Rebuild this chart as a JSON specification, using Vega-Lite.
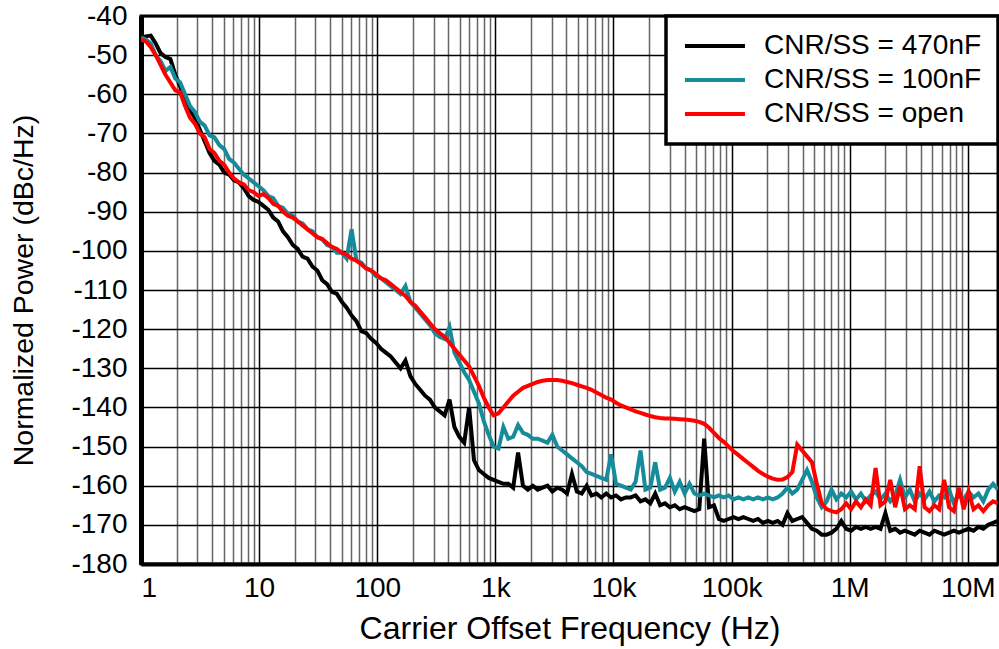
{
  "$schema": "https://vega.github.io/schema/vega-lite/v6.json",
  "autosize": {"type": "none"},
  "width": 857,
  "height": 548,
  "padding": {"left": 141, "top": 16, "right": 1, "bottom": 85},
  "background": "white",
  "config": {
    "font": "Liberation Sans",
    "view": {"stroke": "black", "strokeWidth": 3},
    "axis": {
      "labelFont": "Liberation Sans",
      "labelFontSize": 28,
      "labelColor": "black",
      "titleFont": "Liberation Sans",
      "titleFontSize": 28,
      "titleFontWeight": "normal",
      "titleColor": "black",
      "ticks": false,
      "gridColor": "black",
      "gridWidth": 1.5,
      "gridOpacity": 1,
      "domainColor": "black"
    },
    "legend": {
      "orient": "top-right",
      "offset": 0,
      "fillColor": "white",
      "strokeColor": "black",
      "strokeWidth": 3.5,
      "padding": 16,
      "symbolType": "M-0.92,0H4.08",
      "symbolSize": 576,
      "symbolStrokeWidth": 4,
      "labelFont": "Liberation Sans",
      "labelFontSize": 28,
      "labelColor": "black",
      "labelOffset": 54,
      "labelLimit": 500,
      "rowPadding": 6
    }
  },
  "data": {
    "values": [
      {"f": 1, "a": -45.5, "b": -45.5, "c": -46},
      {"f": 1.1, "a": -45.2, "b": -46, "c": -46.5},
      {"f": 1.21, "a": -45, "b": -47, "c": -48},
      {"f": 1.331, "a": -47, "b": -50, "c": -50},
      {"f": 1.465, "a": -49.5, "b": -51.5, "c": -52.5},
      {"f": 1.612, "a": -50.5, "b": -54, "c": -55},
      {"f": 1.773, "a": -51, "b": -53, "c": -57},
      {"f": 1.951, "a": -55, "b": -56, "c": -59},
      {"f": 2.146, "a": -58, "b": -57, "c": -59.5},
      {"f": 2.361, "a": -62, "b": -60, "c": -63},
      {"f": 2.598, "a": -64, "b": -63, "c": -66},
      {"f": 2.858, "a": -66, "b": -64.5, "c": -67.5},
      {"f": 3.144, "a": -69, "b": -67, "c": -70},
      {"f": 3.459, "a": -72, "b": -68, "c": -71},
      {"f": 3.806, "a": -75, "b": -70.5, "c": -74},
      {"f": 4.187, "a": -77, "b": -71, "c": -75},
      {"f": 4.606, "a": -78, "b": -73, "c": -77},
      {"f": 5.068, "a": -80, "b": -74, "c": -78},
      {"f": 5.575, "a": -80.5, "b": -76.5, "c": -80},
      {"f": 6.134, "a": -82, "b": -77.5, "c": -81.5},
      {"f": 6.748, "a": -82.5, "b": -79, "c": -82.5},
      {"f": 7.424, "a": -84, "b": -80.5, "c": -83},
      {"f": 8.168, "a": -86, "b": -81.5, "c": -84.5},
      {"f": 8.986, "a": -87, "b": -82.5, "c": -85},
      {"f": 9.886, "a": -87.5, "b": -83.5, "c": -86},
      {"f": 10.876, "a": -88.5, "b": -84.5, "c": -85.5},
      {"f": 11.965, "a": -89.5, "b": -86, "c": -86.5},
      {"f": 13.164, "a": -91.5, "b": -86.5, "c": -88},
      {"f": 14.483, "a": -92.5, "b": -88.5, "c": -88.5},
      {"f": 15.933, "a": -95, "b": -89, "c": -90},
      {"f": 17.529, "a": -96.5, "b": -90.5, "c": -91},
      {"f": 19.286, "a": -98.5, "b": -91, "c": -91.5},
      {"f": 21.218, "a": -99.5, "b": -92.5, "c": -92.5},
      {"f": 23.343, "a": -101.5, "b": -93, "c": -93.5},
      {"f": 25.681, "a": -102, "b": -94.5, "c": -94.5},
      {"f": 28.252, "a": -104, "b": -95, "c": -95.5},
      {"f": 31.083, "a": -105, "b": -96.5, "c": -96.5},
      {"f": 34.196, "a": -107.5, "b": -97, "c": -97},
      {"f": 37.622, "a": -108.5, "b": -98.5, "c": -98},
      {"f": 41.391, "a": -110.5, "b": -99, "c": -99},
      {"f": 45.536, "a": -111, "b": -100.5, "c": -99.5},
      {"f": 50.098, "a": -113, "b": -100.5, "c": -100.5},
      {"f": 55.117, "a": -114.5, "b": -102, "c": -101},
      {"f": 60.638, "a": -116.5, "b": -94.5, "c": -102},
      {"f": 66.712, "a": -118, "b": -102.5, "c": -102.5},
      {"f": 73.394, "a": -120.5, "b": -103, "c": -103.5},
      {"f": 80.741, "a": -121, "b": -104.5, "c": -104.5},
      {"f": 88.833, "a": -122.5, "b": -105, "c": -105},
      {"f": 97.73, "a": -123.5, "b": -106.5, "c": -106},
      {"f": 107.52, "a": -125, "b": -107, "c": -107},
      {"f": 118.29, "a": -126, "b": -108, "c": -107.5},
      {"f": 130.14, "a": -127, "b": -109, "c": -108.5},
      {"f": 143.18, "a": -128.5, "b": -110, "c": -109.5},
      {"f": 157.52, "a": -130, "b": -111, "c": -110.5},
      {"f": 173.3, "a": -128, "b": -109, "c": -111.5},
      {"f": 190.66, "a": -132, "b": -113, "c": -113},
      {"f": 209.75, "a": -134, "b": -114.5, "c": -114},
      {"f": 230.76, "a": -135.5, "b": -116, "c": -115.5},
      {"f": 254.13, "a": -137, "b": -117.5, "c": -117},
      {"f": 279.3, "a": -138, "b": -119, "c": -118.5},
      {"f": 307.28, "a": -140, "b": -121, "c": -120},
      {"f": 338.06, "a": -141, "b": -122, "c": -121},
      {"f": 371.93, "a": -142, "b": -122.5, "c": -122},
      {"f": 409.18, "a": -138, "b": -119.5, "c": -123.5},
      {"f": 450.18, "a": -145, "b": -126, "c": -125},
      {"f": 495.27, "a": -147.5, "b": -128.5, "c": -126.5},
      {"f": 544.87, "a": -149, "b": -131, "c": -128},
      {"f": 599.45, "a": -140, "b": -133, "c": -129.5},
      {"f": 659.5, "a": -153.5, "b": -136, "c": -132},
      {"f": 725.54, "a": -156, "b": -139, "c": -134.5},
      {"f": 798.23, "a": -157, "b": -143.5, "c": -137.5},
      {"f": 878.2, "a": -158, "b": -147, "c": -140},
      {"f": 966.17, "a": -158.5, "b": -150, "c": -142},
      {"f": 1062.9, "a": -159, "b": -150.5, "c": -141.5},
      {"f": 1169.4, "a": -159.5, "b": -145, "c": -140},
      {"f": 1286.6, "a": -159.5, "b": -148, "c": -138.5},
      {"f": 1415.4, "a": -160.5, "b": -147.5, "c": -137},
      {"f": 1557.2, "a": -151.5, "b": -144.5, "c": -136},
      {"f": 1713.1, "a": -160, "b": -146.5, "c": -135},
      {"f": 1884.8, "a": -161, "b": -147, "c": -134.5},
      {"f": 2073.6, "a": -160, "b": -148, "c": -134},
      {"f": 2281.3, "a": -161, "b": -148, "c": -133.5},
      {"f": 2509.8, "a": -160.5, "b": -148.5, "c": -133.2},
      {"f": 2761.2, "a": -160, "b": -149, "c": -133},
      {"f": 3037.8, "a": -161.5, "b": -147, "c": -133},
      {"f": 3342.1, "a": -160.5, "b": -150, "c": -133},
      {"f": 3676.8, "a": -161, "b": -151, "c": -133.2},
      {"f": 4045.1, "a": -162, "b": -152, "c": -133.5},
      {"f": 4450.3, "a": -157, "b": -153, "c": -133.8},
      {"f": 4896.1, "a": -161.5, "b": -154, "c": -134.2},
      {"f": 5386.6, "a": -162, "b": -155, "c": -134.6},
      {"f": 5926, "a": -160, "b": -156.5, "c": -135},
      {"f": 6519.8, "a": -162.5, "b": -157, "c": -135.5},
      {"f": 7172.8, "a": -162, "b": -157.5, "c": -136.2},
      {"f": 7891.3, "a": -163, "b": -158, "c": -136.8},
      {"f": 8681.7, "a": -162, "b": -158.5, "c": -137.5},
      {"f": 9551.2, "a": -163, "b": -152, "c": -138},
      {"f": 10508, "a": -162.5, "b": -159.5, "c": -138.8},
      {"f": 11561, "a": -163.5, "b": -160, "c": -139.5},
      {"f": 12719, "a": -163, "b": -160.5, "c": -140},
      {"f": 13993, "a": -163, "b": -161, "c": -140.5},
      {"f": 15394, "a": -162.5, "b": -159, "c": -141},
      {"f": 16936, "a": -164, "b": -151, "c": -141.4},
      {"f": 18633, "a": -163.5, "b": -161, "c": -141.8},
      {"f": 20499, "a": -164.5, "b": -160.5, "c": -142.2},
      {"f": 22553, "a": -162, "b": -154, "c": -142.5},
      {"f": 24811, "a": -165, "b": -161, "c": -142.7},
      {"f": 27297, "a": -164.5, "b": -160.5, "c": -142.8},
      {"f": 30031, "a": -165.5, "b": -158, "c": -142.8},
      {"f": 33039, "a": -165, "b": -161.5, "c": -142.9},
      {"f": 36349, "a": -166, "b": -159, "c": -143},
      {"f": 39990, "a": -165.5, "b": -162, "c": -143.1},
      {"f": 43996, "a": -166, "b": -159.5, "c": -143.2},
      {"f": 48403, "a": -166.5, "b": -162, "c": -143.4},
      {"f": 53251, "a": -166, "b": -162.5, "c": -143.7},
      {"f": 58585, "a": -148, "b": -162, "c": -144.2},
      {"f": 64453, "a": -165.5, "b": -162.5, "c": -145.2},
      {"f": 70908, "a": -165, "b": -163, "c": -146.5},
      {"f": 78013, "a": -168.5, "b": -162.5, "c": -147.8},
      {"f": 85826, "a": -169, "b": -163, "c": -148.8},
      {"f": 94424, "a": -168.5, "b": -162.5, "c": -150},
      {"f": 103882, "a": -168, "b": -163.5, "c": -151.2},
      {"f": 114290, "a": -168.5, "b": -163, "c": -152.2},
      {"f": 125730, "a": -168, "b": -163.5, "c": -153.2},
      {"f": 138330, "a": -168.5, "b": -163, "c": -154.2},
      {"f": 152190, "a": -169, "b": -163.5, "c": -155.2},
      {"f": 167430, "a": -168.5, "b": -163, "c": -156.2},
      {"f": 184200, "a": -169.5, "b": -163.5, "c": -157},
      {"f": 202650, "a": -169, "b": -163, "c": -157.7},
      {"f": 222950, "a": -169.5, "b": -163.5, "c": -158.2},
      {"f": 245280, "a": -169, "b": -163, "c": -158.5},
      {"f": 269860, "a": -170, "b": -162, "c": -158.4},
      {"f": 296880, "a": -167, "b": -160.5, "c": -157.8},
      {"f": 326630, "a": -169, "b": -162, "c": -156.5},
      {"f": 359340, "a": -168.5, "b": -161, "c": -149.5},
      {"f": 395340, "a": -168, "b": -158.5, "c": -151},
      {"f": 434940, "a": -169.5, "b": -156, "c": -152.5},
      {"f": 478500, "a": -171, "b": -159, "c": -154},
      {"f": 526430, "a": -171.5, "b": -163, "c": -159.5},
      {"f": 579160, "a": -172.5, "b": -165.5, "c": -164.5},
      {"f": 637170, "a": -172.5, "b": -164, "c": -166},
      {"f": 701000, "a": -172, "b": -161, "c": -166.5},
      {"f": 771220, "a": -171, "b": -163.5, "c": -166.8},
      {"f": 848470, "a": -169, "b": -162, "c": -166},
      {"f": 933480, "a": -171, "b": -163, "c": -164.5},
      {"f": 1026980, "a": -171.5, "b": -161.5, "c": -166},
      {"f": 1129800, "a": -170.5, "b": -163.5, "c": -164},
      {"f": 1243000, "a": -171, "b": -162, "c": -165.5},
      {"f": 1367500, "a": -170.5, "b": -164, "c": -163.5},
      {"f": 1504500, "a": -171, "b": -162.5, "c": -165},
      {"f": 1655200, "a": -170.5, "b": -161.5, "c": -155.5},
      {"f": 1821000, "a": -171, "b": -163.5, "c": -165},
      {"f": 2003400, "a": -167, "b": -162, "c": -164},
      {"f": 2204100, "a": -171.5, "b": -164, "c": -158.5},
      {"f": 2424900, "a": -171, "b": -162.5, "c": -165.5},
      {"f": 2667700, "a": -172, "b": -158.5, "c": -160},
      {"f": 2935000, "a": -171.5, "b": -163, "c": -166},
      {"f": 3228900, "a": -172, "b": -161, "c": -165},
      {"f": 3552600, "a": -172.5, "b": -164, "c": -166},
      {"f": 3908300, "a": -171.5, "b": -162, "c": -155},
      {"f": 4299700, "a": -172, "b": -163.5, "c": -165.5},
      {"f": 4730400, "a": -172.5, "b": -161.5, "c": -166.5},
      {"f": 5204300, "a": -171.5, "b": -164, "c": -165},
      {"f": 5725500, "a": -172, "b": -162.5, "c": -166},
      {"f": 6299100, "a": -172.5, "b": -163, "c": -158.5},
      {"f": 6930000, "a": -172, "b": -161, "c": -165.5},
      {"f": 7624300, "a": -171.5, "b": -164.5, "c": -166.5},
      {"f": 8387800, "a": -172, "b": -162, "c": -160.5},
      {"f": 9228000, "a": -171.5, "b": -163.5, "c": -166},
      {"f": 10152400, "a": -171, "b": -161.5, "c": -161.5},
      {"f": 11168000, "a": -171.5, "b": -163, "c": -166},
      {"f": 12288000, "a": -170.5, "b": -162, "c": -165},
      {"f": 13519000, "a": -171, "b": -164, "c": -166.5},
      {"f": 14873000, "a": -170, "b": -161, "c": -165},
      {"f": 16363000, "a": -169.5, "b": -159.5, "c": -164},
      {"f": 18000000, "a": -169, "b": -161, "c": -164.5}
    ]
  },
  "transform": [{"fold": ["a", "b", "c"], "as": ["s", "v"]}],
  "mark": {"type": "line", "strokeWidth": 4, "clip": true},
  "encoding": {
    "x": {
      "field": "f",
      "type": "quantitative",
      "scale": {"type": "log", "domain": [1, 18000000], "nice": false},
      "axis": {
        "title": "Carrier Offset Frequency (Hz)",
        "titleFontSize": 32,
        "values": [1,2,3,4,5,6,7,8,9,10,20,30,40,50,60,70,80,90,100,200,300,400,500,600,700,800,900,1000,2000,3000,4000,5000,6000,7000,8000,9000,10000,20000,30000,40000,50000,60000,70000,80000,90000,100000,200000,300000,400000,500000,600000,700000,800000,900000,1000000,2000000,3000000,4000000,5000000,6000000,7000000,8000000,9000000,10000000],
        "labelExpr": "datum.value == 1 ? '1' : datum.value == 10 ? '10' : datum.value == 100 ? '100' : datum.value == 1000 ? '1k' : datum.value == 10000 ? '10k' : datum.value == 100000 ? '100k' : datum.value == 1000000 ? '1M' : datum.value == 10000000 ? '10M' : ''",
        "gridColor": {"condition": {"test": "indexof([1,10,100,1000,10000,100000,1000000,10000000], datum.value) >= 0", "value": "black"}, "value": "#666666"},
        "domainWidth": 4,
        "labelPadding": 10,
        "titlePadding": 11
      }
    },
    "y": {
      "field": "v",
      "type": "quantitative",
      "scale": {"domain": [-180, -40], "nice": false},
      "axis": {
        "title": "Normalized Power (dBc/Hz)",
        "titleFontSize": 28.5,
        "values": [-180,-170,-160,-150,-140,-130,-120,-110,-100,-90,-80,-70,-60,-50,-40],
        "labelExpr": "'' + datum.value",
        "domainWidth": 5,
        "labelPadding": 14,
        "titlePadding": 32
      }
    },
    "color": {
      "field": "s",
      "type": "nominal",
      "scale": {"domain": ["a", "b", "c"], "range": ["#000000", "#168c9b", "#ff0000"]},
      "legend": {
        "title": null,
        "labelExpr": "datum.label == 'a' ? 'CNR/SS = 470nF' : datum.label == 'b' ? 'CNR/SS = 100nF' : 'CNR/SS = open'"
      }
    }
  }
}
